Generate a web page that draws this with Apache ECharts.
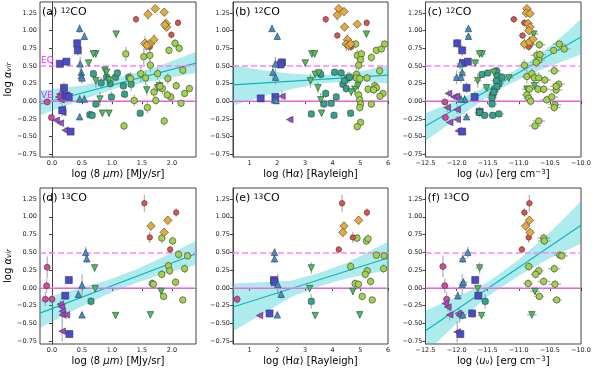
<!DOCTYPE html>
<html>
<head>
<meta charset="utf-8">
<script src="https://cdn.jsdelivr.net/npm/echarts@6/dist/echarts.min.js"></script>
<style>
  html, body { margin: 0; padding: 0; background: #fff; }
  #chart { width: 598px; height: 371px; }
</style>
</head>
<body>
<div id="chart"></div>
<script>
// ticks
var yTicks = [-0.75, -0.5, -0.25, 0, 0.25, 0.5, 0.75, 1.0, 1.25];
var xTicks8um = [0, 0.5, 1.0, 1.5, 2.0];
var xTicksHa = [1, 2, 3, 4, 5, 6];
var xTicksU = [-12.5, -12.0, -11.5, -11.0, -10.5, -10.0];

// (a) 12CO vs 8um  [x, y, yerr]
var aMag = [[-0.08,-0.01,0.04],[-0.01,-0.23,0.04]];
var aPur = [[0.13,0.10,0.05],[0.11,0.06,0.05],[0.15,0.02,0.06],[0.17,-0.11,0.06],[0.18,-0.16,0.05],[0.07,-0.27,0.04],[0.14,-0.31,0.04],[0.22,-0.41,0.04]];
var aBlu = [[0.42,0.82,0.06],[0.43,0.72,0.08],[0.13,0.53,0.05],[0.24,0.56,0.05],[0.20,0.19,0.08],[0.24,0.08,0.1],[0.28,0.06,0.06],[0.17,-0.13,0.08],[0.31,-0.43,0.04]];
var aCya = [[0.46,1.03,0.06],[0.54,0.92,0.06],[0.47,0.53,0.1],[0.49,0.41,0.12],[0.49,0.36,0.1],[0.50,0.33,0.08],[0.46,0.03,0.06],[0.54,0.03,0.06],[0.46,-0.22,0.04]];
var aTea = [[0.69,0.39,0.05],[0.91,0.34,0.05],[0.82,0.26,0.08],[1.06,0.34,0.06],[1.09,0.40,0.05],[1.28,0.34,0.06],[1.19,0.22,0.06],[1.32,0.24,0.1],[0.99,0.06,0.08],[0.73,-0.04,0.06],[0.63,-0.19,0.06],[0.67,-0.20,0.06],[1.47,-0.17,0.04],[1.21,0.10,0.06],[0.97,0.25,0.06]];
var aGrn = [[1.07,0.95,0.05],[0.73,0.67,0.05],[0.69,0.67,0.05],[0.61,0.54,0.05],[0.73,0.29,0.1],[0.88,0.44,0.06],[0.91,0.41,0.06],[0.95,0.30,0.08],[0.80,0.03,0.1],[0.84,-0.17,0.05],[0.95,-0.17,0.05],[1.58,0.16,0.08],[1.79,0.22,0.08],[1.76,0.19,0.06]];
var aYel = [[1.23,0.67,0.1],[1.53,0.63,0.12],[1.63,0.65,0.1],[1.95,0.72,0.06],[2.05,0.82,0.06],[2.12,0.75,0.06],[1.64,0.51,0.1],[1.48,0.39,0.12],[1.56,0.33,0.1],[1.31,0.32,0.1],[1.76,0.39,0.08],[1.93,0.32,0.08],[2.18,0.44,0.06],[1.84,0.18,0.08],[1.80,0.21,0.08],[2.07,0.22,0.06],[2.29,0.18,0.05],[2.21,0.11,0.05],[1.70,0.13,0.08],[1.98,0.06,0.06],[1.59,-0.09,0.08],[1.37,0.01,0.08],[1.20,-0.35,0.06],[1.87,-0.28,0.06],[2.15,-0.03,0.05],[1.92,0.09,0.06],[1.73,0.01,0.06]];
var aRed = [[1.40,1.16,0.05],[2.10,1.11,0.05],[1.99,0.94,0.05],[1.63,0.77,0.06]];
var aOrg = [[1.60,1.23,0.08],[1.72,1.31,0.05],[1.87,1.26,0.05],[1.90,1.10,0.06],[1.91,1.05,0.06],[1.88,1.08,0.06],[1.55,0.82,0.1],[1.62,0.80,0.08],[1.70,0.87,0.08],[1.58,0.79,0.08]];
var aFit = [[-0.2,-0.04],[2.4,0.54]];
var aBand = [[-0.2,-0.20,0.15],[0.5,0.02,0.22],[1.1,0.19,0.34],[1.7,0.29,0.47],[2.4,0.40,0.70]];

// (b) 12CO vs Halpha
var bMag = [];
var bPur = [[2.17,0.07,0.08],[2.45,-0.26,0.04]];
var bBlu = [[2.17,0.55,0.05],[2.12,0.52,0.05],[1.40,0.04,0.04],[1.93,0.06,0.05]];
var bCya = [[1.81,1.03,0.05],[2.0,0.92,0.05],[1.93,0.53,0.1],[1.84,0.41,0.1],[1.94,0.34,0.1],[1.90,0.02,0.05],[1.96,0.01,0.05]];
var bTea = [[3.23,-0.18,0.05],[3.57,0.38,0.05],[3.75,0.11,0.06],[3.69,-0.04,0.06],[3.95,-0.03,0.05],[4.07,0.41,0.05],[4.31,0.40,0.06],[4.37,0.24,0.06],[4.55,0.33,0.08],[4.49,0.18,0.06],[4.61,0.34,0.08],[4.13,0.06,0.06],[4.05,-0.20,0.05],[4.65,-0.17,0.05],[4.43,0.29,0.08]];
var bGrn = [[5.22,0.95,0.05],[3.25,0.67,0.05],[3.35,0.67,0.05],[3.01,0.54,0.05],[3.20,0.29,0.1],[3.37,0.38,0.06],[3.50,0.40,0.06],[3.47,0.19,0.08],[3.57,0.02,0.1],[3.60,-0.17,0.05],[4.80,0.17,0.08],[4.92,0.22,0.06],[4.67,0.13,0.06]];
var bYel = [[4.83,0.81,0.06],[4.89,0.65,0.08],[5.04,0.67,0.06],[5.01,0.59,0.06],[4.94,0.51,0.08],[4.86,0.38,0.1],[4.86,0.33,0.08],[4.98,0.32,0.08],[5.24,0.33,0.06],[5.40,0.62,0.06],[5.58,0.72,0.05],[5.76,0.74,0.05],[5.88,0.81,0.05],[5.70,0.43,0.06],[5.28,0.17,0.06],[5.52,0.22,0.06],[5.58,0.19,0.06],[5.48,0.16,0.06],[5.82,0.11,0.05],[5.71,0.07,0.05],[4.94,0.09,0.06],[4.98,0.02,0.06],[5.01,-0.04,0.06],[4.98,-0.09,0.06],[5.40,-0.04,0.05],[5.01,-0.30,0.05],[4.89,-0.36,0.05]];
var bRed = [[3.75,1.16,0.05],[4.17,0.93,0.05],[5.23,1.11,0.05],[4.67,0.77,0.06]];
var bOrg = [[4.22,1.31,0.05],[4.17,1.22,0.08],[4.41,1.27,0.05],[4.43,1.05,0.06],[4.89,1.09,0.05],[4.53,0.87,0.08],[4.49,0.81,0.1],[4.58,0.79,0.08],[4.65,0.81,0.08]];
var bFit = [[0.4,0.23],[6,0.37]];
var bBand = [[0.4,-0.06,0.51],[1.5,0.07,0.44],[2.5,0.17,0.39],[3.5,0.25,0.37],[4.5,0.28,0.39],[5.2,0.28,0.44],[6,0.25,0.52]];

// (c) 12CO vs u_nu  [x, y, yerr, xerr]
var cMag = [[-12.19,-0.01,0.04,0.06],[-12.18,-0.23,0.04,0.06]];
var cPur = [[-12.13,0.11,0.05,0.06],[-12.04,0.06,0.05,0.06],[-12.15,-0.09,0.06,0.06],[-11.99,-0.12,0.06,0.06],[-12.11,-0.30,0.04,0.06],[-11.99,-0.26,0.05,0.06],[-11.97,-0.42,0.04,0.06],[-12.00,0.07,0.05,0.06]];
var cBlu = [[-11.99,0.82,0.06,0.06],[-11.91,0.72,0.08,0.06],[-11.90,0.54,0.05,0.06],[-11.82,0.56,0.05,0.06],[-11.84,0.19,0.08,0.06],[-11.71,0.06,0.08,0.06],[-11.63,-0.15,0.08,0.06],[-11.91,-0.43,0.04,0.06]];
var cCya = [[-11.81,1.03,0.05,0.05],[-11.81,0.92,0.05,0.05],[-11.91,0.41,0.1,0.06],[-12.00,0.34,0.1,0.06],[-11.93,0.34,0.08,0.06],[-11.87,0.03,0.06,0.06],[-11.93,0.03,0.06,0.06],[-11.84,-0.22,0.04,0.06],[-11.94,0.53,0.08,0.06]];
var cTea = [[-11.59,0.38,0.05,0.08],[-11.50,0.40,0.05,0.08],[-11.36,0.43,0.06,0.08],[-11.34,0.36,0.06,0.08],[-11.32,0.25,0.08,0.08],[-11.39,0.17,0.06,0.08],[-11.42,0.09,0.06,0.08],[-11.43,0.05,0.06,0.08],[-11.43,-0.04,0.06,0.08],[-11.42,-0.20,0.05,0.08],[-11.32,-0.18,0.05,0.08],[-11.63,-0.16,0.06,0.08],[-11.55,-0.20,0.05,0.08],[-11.27,0.34,0.06,0.08],[-11.36,0.29,0.06,0.08],[-11.35,0.21,0.06,0.08],[-11.40,0.13,0.06,0.08]];
var cGrn = [[-10.76,0.95,0.05,0.08],[-11.59,0.67,0.05,0.06],[-11.63,0.67,0.05,0.06],[-11.70,0.54,0.05,0.06],[-11.66,0.29,0.1,0.06],[-11.52,0.19,0.06,0.06],[-11.16,0.33,0.06,0.08],[-10.87,0.17,0.06,0.08],[-10.75,0.22,0.06,0.08],[-11.40,0.41,0.06,0.06]];
var cYel = [[-10.82,0.81,0.06,0.08],[-10.67,0.80,0.06,0.1],[-10.71,0.65,0.08,0.1],[-10.66,0.66,0.06,0.1],[-10.68,0.58,0.06,0.1],[-10.72,0.55,0.08,0.1],[-10.91,0.51,0.08,0.08],[-10.44,0.72,0.05,0.1],[-10.35,0.81,0.05,0.1],[-10.27,0.74,0.05,0.1],[-10.43,0.43,0.06,0.1],[-10.87,0.35,0.1,0.08],[-10.79,0.39,0.08,0.08],[-10.75,0.33,0.08,0.08],[-10.68,0.33,0.08,0.1],[-10.58,0.30,0.06,0.1],[-10.83,0.17,0.06,0.08],[-10.69,0.17,0.06,0.1],[-10.60,0.17,0.06,0.1],[-10.40,0.16,0.06,0.1],[-10.36,0.24,0.06,0.1],[-10.40,0.21,0.06,0.1],[-10.87,0.09,0.06,0.08],[-10.84,0.04,0.06,0.08],[-10.81,0.00,0.06,0.08],[-10.55,0.02,0.06,0.1],[-10.47,0.06,0.06,0.1],[-10.42,-0.05,0.06,0.1],[-10.43,-0.09,0.06,0.1],[-10.68,-0.28,0.05,0.1],[-10.74,-0.35,0.05,0.1]];
var cRed = [[-11.08,1.16,0.05,0.06],[-10.91,1.11,0.05,0.06],[-10.94,0.93,0.05,0.06],[-10.84,0.77,0.06,0.06]];
var cOrg = [[-10.87,1.31,0.05,0.05],[-10.88,1.25,0.06,0.05],[-10.82,1.24,0.05,0.05],[-10.85,1.10,0.06,0.05],[-10.82,1.05,0.05,0.05],[-10.84,1.00,0.05,0.05],[-10.91,0.81,0.08,0.05],[-10.83,0.84,0.08,0.05],[-10.77,0.88,0.06,0.05]];
var cFit = [[-12.5,-0.35],[-10,0.91]];
var cBand = [[-12.5,-0.56,-0.17],[-12,-0.25,0.01],[-11.5,0.06,0.22],[-11.2,0.22,0.36],[-10.8,0.39,0.58],[-10.4,0.53,0.85],[-10,0.66,1.16]];

// (d) 13CO vs 8um
var dMag = [[-0.08,0.29,0.15],[-0.09,0.03,0.1],[-0.11,-0.16,0.1],[0.0,-0.16,0.06]];
var dPur = [[0.14,-0.23,0.06],[0.16,-0.27,0.06],[0.17,-0.33,0.08],[0.17,-0.38,0.1],[0.24,-0.38,0.06],[0.17,-0.61,0.15]];
var dBlu = [[0.28,0.11,0.04],[0.22,-0.11,0.05],[0.29,-0.65,0.04]];
var dCya = [[0.56,0.50,0.08],[0.58,0.41,0.06],[0.50,0.04,0.15],[0.44,-0.09,0.06],[0.50,-0.38,0.04]];
var dTea = [[0.65,-0.19,0.06]];
var dGrn = [[0.71,0.28,0.06],[0.72,-0.01,0.05],[1.06,-0.39,0.04],[1.82,-0.05,0.05],[1.64,-0.38,0.05]];
var dYel = [[1.83,0.70,0.08],[2.01,0.66,0.06],[2.11,0.47,0.06],[2.26,0.45,0.05],[1.94,0.31,0.06],[1.96,0.24,0.06],[1.83,0.19,0.06],[2.21,0.27,0.06],[2.06,0.08,0.06],[1.67,0.06,0.06],[1.69,0.05,0.06],[1.86,-0.12,0.05],[2.18,-0.17,0.04]];
var dRed = [[1.54,1.19,0.12],[2.07,1.06,0.06],[1.63,0.71,0.08],[1.97,0.54,0.05]];
var dOrg = [[1.65,0.87,0.06],[1.93,0.95,0.06],[1.87,0.78,0.06]];
var dFit = [[-0.2,-0.355],[2.4,0.48]];
var dBand = [[-0.2,-0.56,-0.16],[0.4,-0.30,-0.02],[0.9,-0.10,0.10],[1.4,0.07,0.26],[1.9,0.21,0.45],[2.4,0.32,0.66]];

// (e) 13CO vs Halpha
var eMag = [[0.55,-0.16,0.06]];
var ePur = [[1.36,-0.39,0.04]];
var eBlu = [[1.88,0.11,0.04],[1.90,0.08,0.04],[1.72,-0.36,0.06]];
var eCya = [[1.90,0.50,0.06],[1.90,0.41,0.06],[2.02,0.05,0.15],[2.14,-0.09,0.06],[2.00,-0.38,0.04]];
var eTea = [[3.23,-0.19,0.1]];
var eGrn = [[3.23,0.28,0.08],[3.17,-0.01,0.05],[3.37,-0.39,0.04],[4.73,-0.05,0.05],[4.98,-0.38,0.05]];
var eYel = [[4.88,0.70,0.06],[5.22,0.66,0.06],[5.28,0.69,0.06],[5.58,0.46,0.05],[5.86,0.45,0.05],[4.65,0.30,0.06],[5.25,0.24,0.06],[5.18,0.19,0.06],[5.84,0.27,0.06],[5.37,0.09,0.06],[4.81,0.06,0.06],[4.93,0.05,0.06],[5.07,-0.12,0.05],[5.43,-0.17,0.04]];
var eRed = [[4.34,1.19,0.12],[5.24,1.06,0.06],[4.73,0.71,0.08],[4.22,0.54,0.05]];
var eOrg = [[4.41,0.87,0.06],[4.94,0.95,0.06],[4.37,0.78,0.06]];
var eFit = [[0.4,-0.27],[6,0.42]];
var eBand = [[0.4,-0.61,0.06],[1.5,-0.36,0.08],[2.5,-0.13,0.10],[3.5,0.02,0.21],[4.5,0.13,0.35],[6,0.25,0.65]];

// (f) 13CO vs u_nu
var fMag = [[-12.22,0.30,0.15,0.06],[-12.19,0.03,0.1,0.06],[-12.16,-0.16,0.1,0.06]];
var fPur = [[-12.18,-0.22,0.06,0.06],[-12.14,-0.27,0.06,0.06],[-12.11,-0.38,0.08,0.06],[-11.97,-0.36,0.06,0.06],[-11.95,-0.39,0.1,0.06],[-11.99,-0.62,0.15,0.06]];
var fBlu = [[-11.70,0.11,0.04,0.06],[-11.65,-0.11,0.05,0.06],[-11.75,-0.36,0.06,0.06],[-11.94,-0.65,0.04,0.06]];
var fCya = [[-11.82,0.50,0.08,0.06],[-11.90,0.41,0.06,0.06],[-11.91,0.05,0.15,0.06],[-11.89,0.08,0.06,0.06],[-11.98,-0.11,0.06,0.06],[-11.90,-0.38,0.04,0.06]];
var fTea = [[-11.54,-0.19,0.1,0.06]];
var fGrn = [[-11.63,0.28,0.08,0.06],[-11.66,-0.01,0.05,0.06],[-11.60,-0.39,0.04,0.06],[-10.74,-0.05,0.05,0.08],[-10.79,-0.38,0.05,0.08]];
var fYel = [[-10.60,0.70,0.06,0.1],[-10.59,0.66,0.06,0.1],[-10.34,0.46,0.05,0.1],[-10.31,0.45,0.05,0.1],[-10.84,0.30,0.06,0.08],[-10.68,0.24,0.06,0.08],[-10.73,0.19,0.06,0.08],[-10.43,0.27,0.06,0.1],[-10.60,0.09,0.06,0.1],[-10.85,0.06,0.06,0.08],[-10.42,0.05,0.06,0.1],[-10.67,-0.12,0.05,0.08],[-10.39,-0.17,0.04,0.08]];
var fRed = [[-10.83,1.19,0.12,0.05],[-10.91,1.06,0.06,0.05],[-10.84,0.71,0.08,0.05],[-10.95,0.54,0.05,0.05]];
var fOrg = [[-10.89,0.87,0.06,0.05],[-10.83,0.95,0.06,0.05],[-10.82,0.78,0.06,0.05]];
var fFit = [[-12.5,-0.605],[-10,0.88]];
var fBand = [[-12.5,-0.92,-0.32],[-12,-0.5,-0.13],[-11.5,-0.12,0.08],[-11,0.17,0.40],[-10.5,0.42,0.78],[-10,0.62,1.22]];

var FONT = 'DejaVu Sans';
var catStyle = {
    mag: {symbol: 'circle', color: '#d8489c', size: 6, rot: 0},
    pur: {symbol: 'triangle', color: '#a646d4', size: 6.5, rot: 90},
    blu: {symbol: 'rect', color: '#4a4ad0', size: 7, rot: 0},
    cya: {symbol: 'triangle', color: '#3c90d0', size: 6.5, rot: 0},
    tea: {symbol: 'roundRect', color: '#2fa488', size: 6, rot: 0},
    grn: {symbol: 'triangle', color: '#46c454', size: 6.5, rot: 180},
    yel: {symbol: 'circle', color: '#a2d24c', size: 6.5, rot: 0},
    red: {symbol: 'circle', color: '#e2504a', size: 5.5, rot: 0},
    org: {symbol: 'diamond', color: '#e4aa3a', size: 8.5, rot: 0}
};

var xNameRich = {
    t: {fontFamily: FONT, fontSize: 10, color: '#000'},
    i: {fontFamily: FONT, fontSize: 10, color: '#000', fontStyle: 'italic'},
    sb: {fontFamily: FONT, fontSize: 7, color: '#000', verticalAlign: 'bottom'},
    sp: {fontFamily: FONT, fontSize: 7, color: '#000', verticalAlign: 'top'}
};
var name8 = '{t|log ⟨8 }{i|μm}{t|⟩ [MJy/sr]}';
var nameHa = '{t|log ⟨H}{i|α}{t|⟩ [Rayleigh]}';
var nameU = '{t|log ⟨}{i|u}{sb|ν}{t|⟩ [erg cm}{sp|−3}{t|]}';

var panels = [
    {lab: '(a)', iso: '12', pts: {mag: aMag, pur: aPur, blu: aBlu, cya: aCya, tea: aTea, grn: aGrn, yel: aYel, red: aRed, org: aOrg}, fit: aFit, band: aBand, xr: [-0.2, 2.4], xt: xTicks8um, dec: 1, xname: name8, grid: [40, 2, 156, 155]},
    {lab: '(b)', iso: '12', pts: {mag: bMag, pur: bPur, blu: bBlu, cya: bCya, tea: bTea, grn: bGrn, yel: bYel, red: bRed, org: bOrg}, fit: bFit, band: bBand, xr: [0.4, 6], xt: xTicksHa, dec: 0, xname: nameHa, grid: [233, 2, 155, 155]},
    {lab: '(c)', iso: '12', pts: {mag: cMag, pur: cPur, blu: cBlu, cya: cCya, tea: cTea, grn: cGrn, yel: cYel, red: cRed, org: cOrg}, fit: cFit, band: cBand, xr: [-12.5, -10], xt: xTicksU, dec: 1, xname: nameU, grid: [425.5, 2, 155.5, 155]},
    {lab: '(d)', iso: '13', pts: {mag: dMag, pur: dPur, blu: dBlu, cya: dCya, tea: dTea, grn: dGrn, yel: dYel, red: dRed, org: dOrg}, fit: dFit, band: dBand, xr: [-0.2, 2.4], xt: xTicks8um, dec: 1, xname: name8, grid: [40, 188, 156, 156]},
    {lab: '(e)', iso: '13', pts: {mag: eMag, pur: ePur, blu: eBlu, cya: eCya, tea: eTea, grn: eGrn, yel: eYel, red: eRed, org: eOrg}, fit: eFit, band: eBand, xr: [0.4, 6], xt: xTicksHa, dec: 0, xname: nameHa, grid: [233, 188, 155, 156]},
    {lab: '(f)', iso: '13', pts: {mag: fMag, pur: fPur, blu: fBlu, cya: fCya, tea: fTea, grn: fGrn, yel: fYel, red: fRed, org: fOrg}, fit: fFit, band: fBand, xr: [-12.5, -10], xt: xTicksU, dec: 1, xname: nameU, grid: [425.5, 188, 155.5, 156]}
];

function fmt(dec) {
    return function (v) { return v.toFixed(dec).replace('-', '\u2212'); };
}

function errItem(params, api) {
    var x = api.value(0), y = api.value(1), ey = api.value(2), ex = api.value(3);
    var st = {stroke: '#b4b4b4', lineWidth: 1.3};
    var kids = [];
    if (ey > 0) {
        var p = api.coord([x, y - ey]), q = api.coord([x, y + ey]);
        kids.push({type: 'line', shape: {x1: p[0], y1: p[1], x2: q[0], y2: q[1]}, style: st});
    }
    if (ex > 0) {
        var r = api.coord([x - ex, y]), s = api.coord([x + ex, y]);
        kids.push({type: 'line', shape: {x1: r[0], y1: r[1], x2: s[0], y2: s[1]}, style: st});
    }
    return {type: 'group', children: kids};
}

function bandItem(band) {
    return function (params, api) {
        var pts = [];
        band.forEach(function (b) { pts.push(api.coord([b[0], b[2]])); });
        for (var i = band.length - 1; i >= 0; i--) pts.push(api.coord([band[i][0], band[i][1]]));
        return {type: 'polygon', shape: {points: pts}, style: {fill: 'rgba(0,192,200,0.32)'}};
    };
}

var grids = [], xAxes = [], yAxes = [], series = [], titles = [];

panels.forEach(function (p, i) {
    grids.push({left: p.grid[0], top: p.grid[1], width: p.grid[2], height: p.grid[3],
        show: true, borderColor: '#444', borderWidth: 1, containLabel: false, outerBoundsMode: 'none'});
    xAxes.push({
        gridIndex: i, type: 'value', min: p.xr[0], max: p.xr[1],
        name: p.xname, nameLocation: 'middle', nameGap: 12,
        nameTextStyle: {rich: xNameRich},
        axisLine: {show: true, lineStyle: {color: '#444'}},
        axisTick: {show: true, length: 3, lineStyle: {color: '#444'}, customValues: p.xt},
        axisLabel: {customValues: p.xt, formatter: fmt(p.dec), fontSize: 6.5, fontFamily: FONT, color: '#222', margin: 3},
        splitLine: {show: false}
    });
    var ya = {
        gridIndex: i, type: 'value', min: -0.79, max: 1.405,
        axisLine: {show: true, lineStyle: {color: '#444'}},
        axisTick: {show: true, length: 3, lineStyle: {color: '#444'}, customValues: yTicks},
        axisLabel: {customValues: yTicks, formatter: fmt(2), fontSize: 6.5, fontFamily: FONT, color: '#222', margin: 3},
        splitLine: {show: false}
    };
    if (i % 3 === 0) {
        ya.name = '{t|log }{i|α}{s|vir}';
        ya.nameLocation = 'middle';
        ya.nameGap = 23;
        ya.nameTextStyle = {rich: {
            t: {fontFamily: FONT, fontSize: 10, color: '#000'},
            i: {fontFamily: FONT, fontSize: 10, color: '#000', fontStyle: 'italic'},
            s: {fontFamily: FONT, fontSize: 7, color: '#000', fontStyle: 'italic', verticalAlign: 'bottom'}
        }};
    }
    yAxes.push(ya);

    titles.push({
        text: '{t|' + p.lab + ' }{s|' + p.iso + '}{t|CO}',
        left: p.grid[0] + 2, top: p.grid[1] + 5, padding: 0,
        textStyle: {fontWeight: 'normal', rich: {
            t: {fontFamily: FONT, fontSize: 11, color: '#000', fontWeight: 'normal'},
            s: {fontFamily: FONT, fontSize: 7.5, color: '#000', fontWeight: 'normal', verticalAlign: 'top'}
        }}
    });

    // error bars
    var all = [];
    Object.keys(p.pts).forEach(function (k) { all = all.concat(p.pts[k]); });
    series.push({type: 'custom', xAxisIndex: i, yAxisIndex: i, data: all, renderItem: errItem, z: 1, silent: true, clip: true});

    // VE / EQ reference lines
    var lineLabel = function (txt) {
        return {show: i === 0, formatter: txt, position: 'insideStartTop', color: '#ff22ff', fontSize: 9, fontFamily: FONT, distance: 1};
    };
    series.push({
        type: 'line', xAxisIndex: i, yAxisIndex: i, data: [], z: 2, silent: true,
        markLine: {
            silent: true, symbol: ['none', 'none'], animation: false,
            data: [
                {yAxis: 0, lineStyle: {color: '#ff80ff', width: 1.5, type: 'solid'}, label: lineLabel('VE')},
                {yAxis: 0.5, lineStyle: {color: '#ff80ff', width: 1.5, type: [6, 3]}, label: lineLabel('EQ')}
            ]
        }
    });

    // confidence band
    series.push({type: 'custom', xAxisIndex: i, yAxisIndex: i, data: [[p.band[0][0], p.band[0][1]]],
        renderItem: bandItem(p.band), z: 3, silent: true, clip: true});

    // fit line
    series.push({type: 'line', xAxisIndex: i, yAxisIndex: i, data: p.fit, symbol: 'none', z: 4,
        lineStyle: {color: '#13b3bb', width: 1.2}, silent: true});

    // markers
    Object.keys(catStyle).forEach(function (k) {
        var cs = catStyle[k];
        if (!p.pts[k].length) return;
        series.push({
            type: 'scatter', xAxisIndex: i, yAxisIndex: i, data: p.pts[k], z: 5,
            symbol: cs.symbol, symbolSize: cs.size, symbolRotate: cs.rot,
            itemStyle: {color: cs.color, borderColor: '#3a3a3a', borderWidth: 0.6, opacity: 1}
        });
    });
});

var myChart = echarts.init(document.getElementById('chart'), null, {renderer: 'canvas'});
myChart.setOption({
    animation: false,
    backgroundColor: '#fff',
    title: titles,
    grid: grids,
    xAxis: xAxes,
    yAxis: yAxes,
    series: series
});
</script>
</body>
</html>
